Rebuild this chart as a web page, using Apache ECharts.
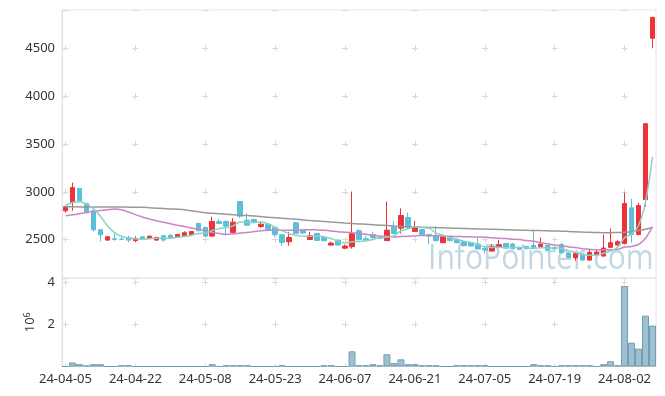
<!DOCTYPE html>
<html>
<head>
<meta charset="utf-8">
<script src="https://cdn.jsdelivr.net/npm/echarts@6/dist/echarts.min.js"></script>
<style>
html,body{margin:0;padding:0;background:#fff;}
#c{width:665px;height:396px;}
</style>
</head>
<body>
<div id="c"></div>
<script>
const dates = ["24-04-05","24-04-08","24-04-09","24-04-11","24-04-12","24-04-15","24-04-16","24-04-17","24-04-18","24-04-19",
"24-04-22","24-04-23","24-04-24","24-04-25","24-04-26","24-04-29","24-04-30","24-05-02","24-05-03","24-05-07",
"24-05-08","24-05-09","24-05-10","24-05-13","24-05-14","24-05-16","24-05-17","24-05-20","24-05-21","24-05-22",
"24-05-23","24-05-24","24-05-27","24-05-28","24-05-29","24-05-30","24-05-31","24-06-03","24-06-04","24-06-05",
"24-06-07","24-06-10","24-06-11","24-06-12","24-06-13","24-06-14","24-06-17","24-06-18","24-06-19","24-06-20",
"24-06-21","24-06-24","24-06-25","24-06-26","24-06-27","24-06-28","24-07-01","24-07-02","24-07-03","24-07-04",
"24-07-05","24-07-08","24-07-09","24-07-10","24-07-11","24-07-12","24-07-15","24-07-16","24-07-17","24-07-18",
"24-07-19","24-07-22","24-07-23","24-07-24","24-07-25","24-07-26","24-07-29","24-07-30","24-07-31","24-08-01",
"24-08-02","24-08-05","24-08-06","24-08-07","24-08-08"];

const openP = [2802,2888,3034,2878,2802,2604,2496,2510,2506,2524,
2490,2531,2513,2496,2542,2545,2531,2545,2555,2670,
2628,2538,2691,2691,2576,2899,2704,2711,2638,2662,
2628,2552,2479,2677,2600,2503,2566,2524,2444,2496,
2412,2427,2594,2510,2552,2524,2490,2635,2621,2732,
2586,2607,2555,2542,2469,2524,2503,2482,2469,2454,
2410,2381,2427,2461,2455,2420,2430,2440,2430,2441,
2420,2450,2360,2310,2350,2287,2344,2329,2420,2444,
2461,2833,2555,2920,4604];

const closeP = [2844,3045,2906,2795,2604,2552,2531,2503,2503,2496,
2513,2503,2537,2524,2496,2517,2555,2573,2586,2594,
2538,2691,2670,2642,2683,2746,2652,2680,2662,2600,
2552,2472,2524,2566,2569,2542,2493,2490,2465,2444,
2434,2566,2503,2493,2524,2513,2600,2566,2753,2628,
2635,2552,2538,2490,2531,2490,2469,2437,2434,2403,
2392,2427,2448,2413,2405,2399,2406,2420,2454,2392,
2405,2365,2315,2355,2287,2368,2371,2413,2469,2479,
2878,2555,2857,3712,4823];

const lowP = [2784,2802,2888,2774,2586,2482,2490,2490,2500,2475,
2475,2500,2510,2490,2480,2510,2525,2540,2550,2590,
2530,2530,2660,2542,2570,2725,2645,2670,2625,2595,
2530,2437,2437,2560,2565,2500,2490,2485,2440,2440,
2400,2406,2490,2485,2490,2510,2488,2560,2566,2620,
2580,2545,2454,2485,2465,2485,2465,2430,2430,2400,
2355,2375,2425,2410,2400,2395,2400,2415,2425,2390,
2395,2355,2305,2280,2280,2280,2340,2325,2415,2440,
2451,2469,2545,2844,4500];

const highP = [2855,3097,3040,2885,2810,2610,2535,2565,2545,2540,
2535,2535,2545,2530,2545,2560,2560,2590,2590,2675,
2635,2740,2720,2700,2725,2905,2777,2720,2690,2668,
2635,2560,2583,2685,2605,2583,2570,2530,2480,2500,
2450,3003,2615,2540,2583,2530,2899,2694,2829,2784,
2697,2612,2560,2646,2540,2530,2510,2490,2475,2517,
2434,2454,2500,2465,2465,2425,2435,2590,2524,2445,
2440,2470,2365,2365,2355,2402,2402,2552,2618,2495,
2993,2927,2885,3715,4825];

const volume = [0,190000,110000,50000,110000,110000,0,0,60000,60000,
0,0,0,0,0,0,0,0,0,0,
0,110000,0,60000,60000,60000,60000,0,0,0,
0,60000,0,0,0,0,0,60000,60000,0,
0,720000,60000,60000,110000,60000,580000,160000,340000,110000,
110000,60000,60000,60000,0,0,60000,60000,60000,60000,
60000,0,0,0,0,0,0,110000,60000,60000,
0,60000,60000,60000,60000,60000,0,110000,250000,60000,
3820000,1130000,850000,2410000,1940000];

const ma5 = [2857,2888,2899,2871,2825,2745,2645,2575,2535,2517,
2509,2504,2510,2515,2515,2515,2526,2533,2545,2565,
2569,2596,2616,2627,2645,2686,2679,2681,2685,2668,
2629,2593,2562,2543,2537,2535,2539,2532,2512,2487,
2465,2480,2482,2488,2504,2520,2527,2539,2591,2612,
2636,2627,2621,2569,2549,2520,2504,2483,2472,2447,
2427,2419,2421,2417,2417,2418,2414,2409,2417,2414,
2415,2407,2386,2366,2345,2338,2339,2359,2382,2420,
2522,2559,2648,2896,3365];

const ma20 = [2750,2760,2772,2785,2795,2805,2813,2820,2812,2790,
2762,2738,2716,2698,2682,2667,2652,2638,2622,2609,
2594,2576,2564,2556,2560,2570,2576,2585,2593,2598,
2600,2599,2598,2600,2604,2605,2602,2598,2592,2584,
2579,2573,2564,2557,2549,2537,2535,2529,2533,2535,
2539,2543,2544,2540,2538,2535,2534,2532,2530,2528,
2526,2519,2516,2512,2506,2501,2491,2484,2469,2457,
2445,2436,2425,2418,2406,2400,2395,2394,2395,2399,
2423,2430,2450,2515,2636];

const ma60 = [2844,2844,2843,2843,2843,2842,2842,2841,2841,2840,
2840,2838,2834,2830,2826,2822,2818,2813,2802,2791,
2781,2776,2771,2766,2761,2756,2752,2747,2741,2735,
2730,2724,2718,2713,2707,2701,2696,2690,2684,2679,
2674,2670,2665,2661,2657,2652,2648,2643,2639,2635,
2633,2631,2628,2626,2624,2622,2620,2618,2615,2613,
2611,2609,2607,2604,2602,2600,2598,2597,2595,2593,
2591,2589,2586,2583,2580,2578,2575,2573,2574,2575,
2577,2583,2596,2610,2628];

// layout constants
const L = 62, W = 594, T1 = 10, H1 = 268, T2 = 278, H2 = 88.5;
const PMIN = 2100, PMAX = 4900, VMAX = 4200000;
const n = dates.length;
const catW = W / n;
const xPeriod = catW * 10;
const arm = 6;
const gridCol = '#d9d9d9';

const hDash = { type: [arm, xPeriod - arm], dashOffset: -(catW / 2 - arm / 2), color: gridCol, width: 1 };
const pPer = 500 * H1 / (PMAX - PMIN);
const firstFromTop1 = (PMAX - 4500) * H1 / (PMAX - PMIN);
const vDash1 = { type: [arm, pPer - arm], dashOffset: pPer - ((firstFromTop1 - arm / 2) % pPer), color: gridCol, width: 1 };
const vPer = 2000000 * H2 / VMAX;
const firstFromTop2 = (VMAX - 4000000) * H2 / VMAX;
const vDash2 = { type: [arm, vPer - arm], dashOffset: vPer - ((firstFromTop2 - arm / 2) % vPer), color: gridCol, width: 1 };

const candleData = dates.map((d, i) => [openP[i], closeP[i], lowP[i], highP[i]]);

const font = 'Noto Sans';
const chart = echarts.init(document.getElementById('c'), null, { renderer: 'canvas' });
chart.setOption({
  animation: false,
  backgroundColor: '#fff',
  textStyle: { fontFamily: font },
  grid: [
    { left: L, width: W, top: T1, height: H1, show: true, borderColor: '#e6e6e6', borderWidth: 1 },
    { left: L, width: W, top: T2, height: H2, show: true, borderColor: '#e6e6e6', borderWidth: 1 }
  ],
  graphic: [{
    type: 'text', x: 428, y: 277, scaleX: 0.86, z: 0, silent: true,
    style: { text: 'InfoPointer.com', fontSize: 35, fontFamily: 'Open Sans', fill: 'rgba(172,202,220,0.75)', verticalAlign: 'bottom', align: 'left' }
  }],
  xAxis: [
    { type: 'category', gridIndex: 0, data: dates, boundaryGap: true,
      axisLine: { show: false }, axisTick: { show: false, alignWithLabel: true, interval: 9 },
      axisLabel: { show: false, interval: 9 },
      splitLine: { show: true, interval: 9, alignWithLabel: true, lineStyle: vDash1 } },
    { type: 'category', gridIndex: 1, data: dates, boundaryGap: true,
      axisLine: { show: true, lineStyle: { color: '#d0d0d0' } },
      axisTick: { show: false, alignWithLabel: true, interval: 9 },
      axisLabel: { interval: 9, color: '#333', fontSize: 13, fontFamily: font, margin: 6 },
      splitLine: { show: true, interval: 9, alignWithLabel: true, lineStyle: vDash2 } }
  ],
  yAxis: [
    { type: 'value', gridIndex: 0, min: PMIN, max: PMAX, splitNumber: 5, scale: true,
      axisLine: { show: true, lineStyle: { color: '#e0e0e0' } }, axisTick: { show: false },
      axisLabel: { color: '#333', fontSize: 13, fontFamily: font, margin: 7, showMinLabel: false, showMaxLabel: false,
        formatter: v => String(v) },
      splitLine: { show: true, lineStyle: hDash } },
    { type: 'value', gridIndex: 1, min: 0, max: VMAX, interval: 2000000,
      axisLine: { show: true, lineStyle: { color: '#e0e0e0' } }, axisTick: { show: false },
      axisLabel: { color: '#333', fontSize: 13, fontFamily: font, margin: 7, showMinLabel: false, showMaxLabel: false,
        formatter: v => String(v / 1000000) },
      splitLine: { show: true, lineStyle: hDash },
      name: '{a|10}{b|6}', nameLocation: 'middle', nameGap: 19, nameRotate: 90,
      nameTextStyle: { color: '#333', fontFamily: font,
        rich: { a: { fontSize: 13, color: '#333', fontFamily: font }, b: { fontSize: 9, color: '#333', fontFamily: font, verticalAlign: 'top', padding: [0, 0, 6, 0] } } } }
  ],
  series: [
    { type: 'candlestick', xAxisIndex: 0, yAxisIndex: 0, data: candleData, barWidth: 5, z: 3,
      itemStyle: { color: '#ee3338', color0: '#5bbfd8', borderColor: '#ee3338', borderColor0: '#5bbfd8', borderWidth: 1 } },
    { type: 'line', xAxisIndex: 0, yAxisIndex: 0, data: ma60, symbol: 'none', smooth: 0.3, z: 4,
      lineStyle: { color: '#999999', width: 1.5 } },
    { type: 'line', xAxisIndex: 0, yAxisIndex: 0, data: ma20, symbol: 'none', smooth: 0.3, z: 4,
      lineStyle: { color: '#c987c1', width: 1.5 } },
    { type: 'line', xAxisIndex: 0, yAxisIndex: 0, data: ma5, symbol: 'none', smooth: 0.3, z: 4,
      lineStyle: { color: '#8fd0c4', width: 1.5 } },
    { type: 'bar', xAxisIndex: 1, yAxisIndex: 1, data: volume, barCategoryGap: '0%',
      itemStyle: { color: '#9ec0d0', borderColor: '#6e9fb5', borderWidth: 1 } }
  ]
});
</script>
</body>
</html>
